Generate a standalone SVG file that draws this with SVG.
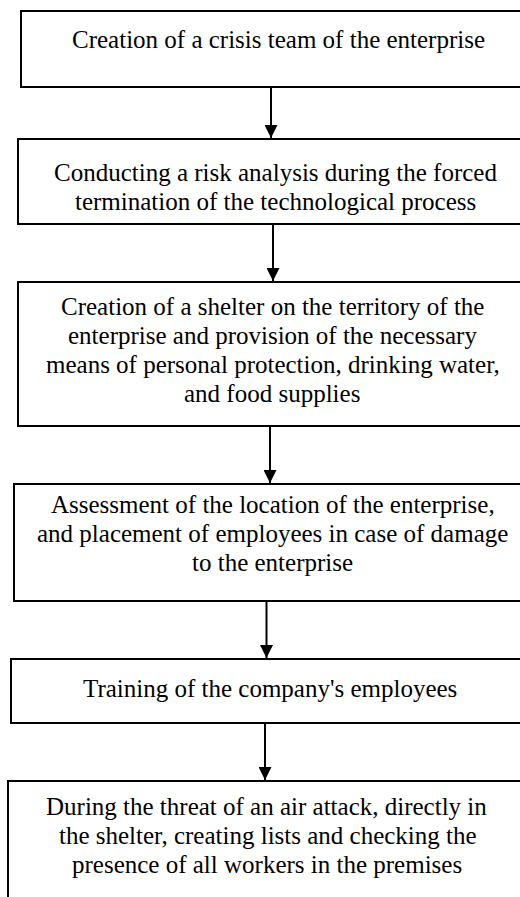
<svg xmlns="http://www.w3.org/2000/svg" width="520" height="897" viewBox="0 0 520 897">
<style>
.box{fill:#fff;stroke:#000;stroke-width:2}
.conn{stroke:#000;stroke-width:2;fill:none}
</style>
<defs>
<marker id="ah" markerWidth="13" markerHeight="13" refX="13" refY="6.5" orient="auto" markerUnits="userSpaceOnUse">
<path d="M0,0 L13,6.5 L0,13 Z" fill="#000"/>
</marker>
</defs>
<rect width="520" height="897" fill="#fff"/>
<g id="n1"><rect class="box" x="21" y="11" width="520" height="76"/>
<text font-family="Liberation Serif" font-size="25" x="72" y="48">Creation of a crisis team of the enterprise</text></g>
<g id="n2"><rect class="box" x="18" y="139" width="520" height="85"/>
<text font-family="Liberation Serif" font-size="25" x="54" y="181">Conducting a risk analysis during the forced</text>
<text font-family="Liberation Serif" font-size="25" x="75" y="210">termination of the technological process</text></g>
<g id="n3"><rect class="box" x="18" y="282" width="520" height="144"/>
<text font-family="Liberation Serif" font-size="25" x="61" y="315">Creation of a shelter on the territory of the</text>
<text font-family="Liberation Serif" font-size="25" x="68" y="344">enterprise and provision of the necessary</text>
<text font-family="Liberation Serif" font-size="25" x="46" y="373">means of personal protection, drinking water,</text>
<text font-family="Liberation Serif" font-size="25" x="184" y="402">and food supplies</text></g>
<g id="n4"><rect class="box" x="14" y="484" width="520" height="117"/>
<text font-family="Liberation Serif" font-size="25" x="51" y="513">Assessment of the location of the enterprise,</text>
<text font-family="Liberation Serif" font-size="25" x="37" y="542">and placement of employees in case of damage</text>
<text font-family="Liberation Serif" font-size="25" x="192" y="571">to the enterprise</text></g>
<g id="n5"><rect class="box" x="11" y="659" width="520" height="64"/>
<text font-family="Liberation Serif" font-size="25" x="83" y="697">Training of the company's employees</text></g>
<g id="n6"><rect class="box" x="8" y="781" width="520" height="140"/>
<text font-family="Liberation Serif" font-size="25" x="46" y="815">During the threat of an air attack, directly in</text>
<text font-family="Liberation Serif" font-size="25" x="59" y="844">the shelter, creating lists and checking the</text>
<text font-family="Liberation Serif" font-size="25" x="72" y="873">presence of all workers in the premises</text></g>
<g id="connectors">
<line class="conn" x1="271" y1="87" x2="271" y2="138" marker-end="url(#ah)"/>
<line class="conn" x1="273" y1="224" x2="273" y2="281" marker-end="url(#ah)"/>
<line class="conn" x1="270" y1="426" x2="270" y2="483" marker-end="url(#ah)"/>
<line class="conn" x1="266.5" y1="601" x2="266.5" y2="658" marker-end="url(#ah)"/>
<line class="conn" x1="265" y1="723" x2="265" y2="780" marker-end="url(#ah)"/>
</g>
</svg>
